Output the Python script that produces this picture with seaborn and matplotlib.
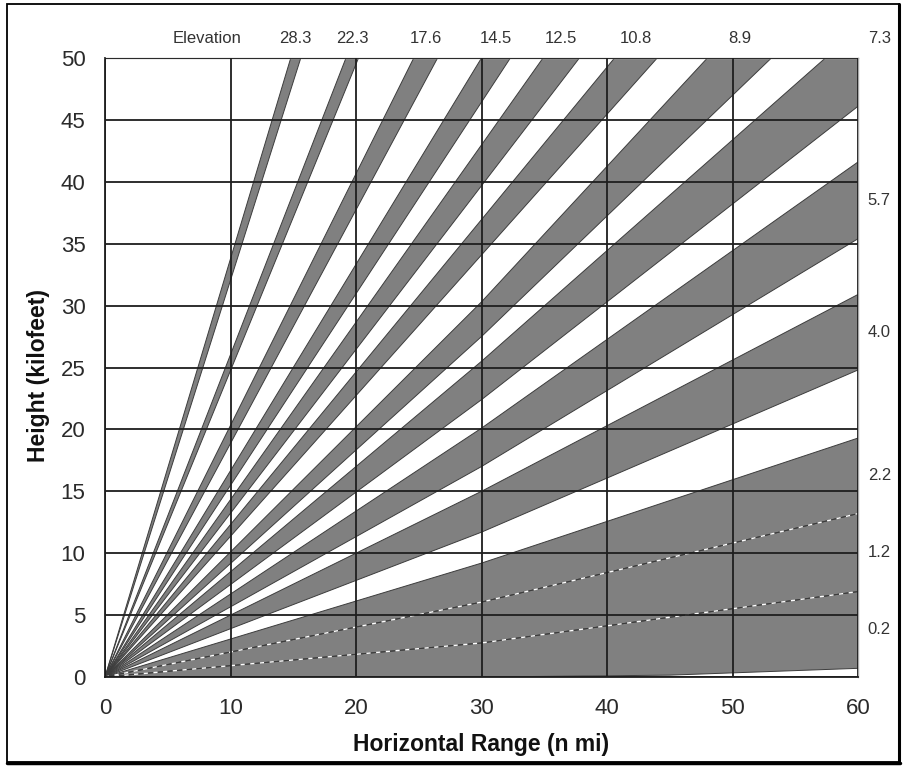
import numpy as np
import pandas as pd
import seaborn as sns
import matplotlib.pyplot as plt
from matplotlib.patches import Rectangle

# elevation angle of each beam (deg), steepest first
elev_labels = ['28.3', '22.3', '17.6', '14.5', '12.5', '10.8', '8.9',
               '7.3', '5.7', '4.0', '2.2', '1.2', '0.2']

# beam edges as (range n mi, height kft) points
lower_edges = [
    [(0, 0), (15.6, 50)],
    [(0, 0), (20.2, 50)],
    [(0, 0), (26.5, 50)],
    [(0, 0), (32.3, 50)],
    [(0, 0), (37.8, 50)],
    [(0, 0), (44.0, 50)],
    [(0, 0), (30, 27.5), (53.1, 50)],
    [(0, 0), (30, 22.4), (60, 46.1)],
    [(0, 0), (30, 17.0), (60, 35.4)],
    [(0, 0), (30, 11.7), (60, 24.8)],
    [(0, 0), (30, 6.05), (60, 13.2)],
    [(0, 0), (30, 2.75), (60, 6.9)],
    [(0, 0), (30, 0.0), (45, 0.15), (60, 0.7)],
]
upper_edges = [
    [(0, 0), (14.8, 50)],
    [(0, 0), (19.2, 50)],
    [(0, 0), (24.6, 50)],
    [(0, 0), (30.0, 50)],
    [(0, 0), (34.9, 50)],
    [(0, 0), (40.6, 50)],
    [(0, 0), (30, 30.3), (48.0, 50)],
    [(0, 0), (30, 25.5), (57.4, 50), (60, 50)],
    [(0, 0), (30, 20.1), (60, 41.6)],
    [(0, 0), (30, 15.0), (60, 30.9)],
    [(0, 0), (30, 9.2), (60, 19.3)],
    [(0, 0), (30, 6.05), (60, 13.2)],
    [(0, 0), (30, 2.75), (60, 6.9)],
]

x_ticks = [0, 10, 20, 30, 40, 50, 60]
y_ticks = [0, 5, 10, 15, 20, 25, 30, 35, 40, 45, 50]

sns.set_style('white')
plt.rcParams['font.family'] = ['Liberation Sans', 'DejaVu Sans']

# long table of edge lines for seaborn
rows = []
for i, (lo, up) in enumerate(zip(lower_edges, upper_edges)):
    for side, pts in (('lo', lo), ('up', up)):
        for x, y in pts:
            rows.append({'edge': f'{i}{side}', 'x': x, 'y': y})
edges = pd.DataFrame(rows)

fig = plt.figure(figsize=(9.07, 7.71), dpi=100)
ax = fig.add_axes([105 / 907, 94 / 771, 753 / 907, 619 / 771])

# gray beam wedges
for lo, up in zip(lower_edges, upper_edges):
    poly = lo + up[::-1]
    ax.fill([p[0] for p in poly], [p[1] for p in poly],
            color='#808080', lw=0, zorder=1)

sns.lineplot(data=edges, x='x', y='y', units='edge', estimator=None,
             sort=False, color='#3c3c3c', lw=0.7, ax=ax, zorder=1.5)

# where two beams touch the edge shows as a broken black/white line
for i in range(len(elev_labels) - 1):
    if lower_edges[i] == upper_edges[i + 1]:
        xs = [p[0] for p in lower_edges[i]]
        ys = [p[1] for p in lower_edges[i]]
        ax.plot(xs, ys, color='white', lw=1.0, ls=(0, (3, 4)), zorder=1.7)

ax.set_xlim(0, 60)
ax.set_ylim(0, 50)
ax.set_xticks(x_ticks)
ax.set_yticks(y_ticks)
ax.set_xlabel('')
ax.set_ylabel('')
ax.set_axisbelow(False)
ax.grid(True, color='#1e1e1e', lw=1.3)
ax.tick_params(direction='out', length=7, width=1.3, color='#1e1e1e',
               labelsize=16, labelcolor='#2a2a2a', pad=7)
ax.tick_params(axis='x', pad=8)
for s in ('left', 'bottom'):
    ax.spines[s].set_color('#1e1e1e')
    ax.spines[s].set_linewidth(1.3)
for s in ('top', 'right'):
    ax.spines[s].set_color('#a8a8a8')
    ax.spines[s].set_linewidth(1.0)

# elevation labels: along the top for beams leaving through the top,
# in a column on the right for the rest
top_row = 51.6
ax.text(8.1, top_row, 'Elevation', ha='center', va='center', fontsize=12,
        color='#333333', clip_on=False)
for name, lo, up in zip(elev_labels, lower_edges, upper_edges):
    if lo[-1][1] >= 50:
        tx, ty = (lo[-1][0] + up[-1][0]) / 2, top_row
    elif up[-1][1] >= 50:
        tx, ty = 61.7, top_row
    else:
        tx, ty = 61.7, (lo[-1][1] + up[-1][1]) / 2
    ax.text(tx, ty, name, ha='center', va='center', fontsize=12,
            color='#333333', clip_on=False)

fig.text(481 / 907, 1 - 745 / 771, 'Horizontal Range (n mi)', ha='center',
         va='center', fontsize=16.5, fontweight='bold', color='#111111')
fig.text(39 / 907, 1 - 375 / 771, 'Height (kilofeet)', ha='center',
         va='center', rotation=90, fontsize=16.5, fontweight='bold',
         color='#111111')

# outer frame
fig.patches.append(Rectangle((7 / 907, 9 / 771), 892 / 907, 758 / 771,
                             transform=fig.transFigure, fill=False,
                             ec='black', lw=1.3))
fig.lines.append(plt.Line2D([7 / 907, 900 / 907], [8 / 771, 8 / 771],
                            transform=fig.transFigure, color='black', lw=2.5))
fig.lines.append(plt.Line2D([899 / 907, 899 / 907], [8 / 771, 767 / 771],
                            transform=fig.transFigure, color='black', lw=2.2))

fig.savefig('out.png', dpi=100)
